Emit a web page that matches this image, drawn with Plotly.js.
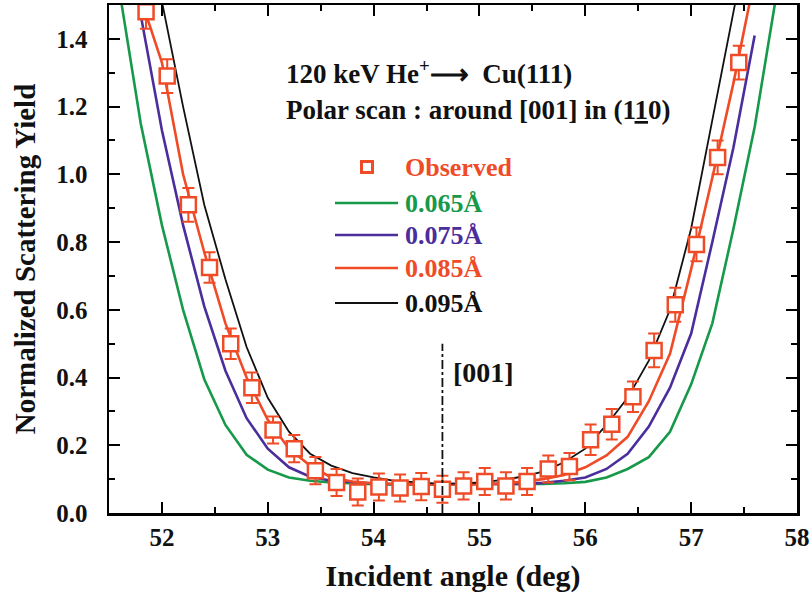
<!DOCTYPE html>
<html>
<head>
<meta charset="utf-8">
<script src="https://cdn.plot.ly/plotly-3.0.1.min.js"></script>
<style>html,body{margin:0;padding:0;background:#fff;}#chart{width:811px;height:597px;}</style>
</head>
<body>
<div id="chart"></div>
<script>
// Observed data
const obsAngle = [51.85, 52.05, 52.25, 52.45, 52.65, 52.85, 53.05, 53.25, 53.45, 53.65, 53.85, 54.05, 54.25, 54.45, 54.65, 54.85, 55.05, 55.25, 55.45, 55.65, 55.85, 56.05, 56.25, 56.45, 56.65, 56.85, 57.05, 57.25, 57.45];
const obsYield = [1.48, 1.29, 0.91, 0.725, 0.50, 0.37, 0.245, 0.19, 0.125, 0.09, 0.062, 0.077, 0.074, 0.078, 0.07, 0.08, 0.093, 0.08, 0.093, 0.13, 0.137, 0.216, 0.262, 0.343, 0.48, 0.615, 0.793, 1.05, 1.33];
const obsErr = [0.05, 0.05, 0.05, 0.045, 0.045, 0.045, 0.04, 0.04, 0.04, 0.04, 0.04, 0.04, 0.04, 0.04, 0.04, 0.04, 0.04, 0.04, 0.04, 0.04, 0.04, 0.045, 0.045, 0.045, 0.05, 0.05, 0.05, 0.05, 0.05];

// Calculated curves
const calcAngle = [51.6, 51.8, 52.0, 52.2, 52.4, 52.6, 52.8, 53.0, 53.2, 53.4, 53.6, 53.8, 54.0, 54.2, 54.4, 54.6, 54.8, 55.0, 55.2, 55.4, 55.6, 55.8, 56.0, 56.2, 56.4, 56.6, 56.8, 57.0, 57.2, 57.4, 57.6, 57.8];
const y065 = [1.54, 1.15, 0.85, 0.60, 0.395, 0.26, 0.172, 0.128, 0.105, 0.095, 0.09, 0.087, 0.085, 0.084, 0.084, 0.084, 0.084, 0.084, 0.084, 0.085, 0.086, 0.088, 0.092, 0.105, 0.13, 0.165, 0.24, 0.38, 0.56, 0.84, 1.14, 1.52];
const y075 = [1.85, 1.47, 1.13, 0.85, 0.61, 0.42, 0.28, 0.19, 0.135, 0.107, 0.095, 0.09, 0.087, 0.085, 0.085, 0.085, 0.085, 0.085, 0.085, 0.086, 0.089, 0.095, 0.105, 0.13, 0.175, 0.255, 0.37, 0.53, 0.80, 1.08, 1.41, null];
const y085 = [1.9, 1.52, 1.33, 1.0, 0.77, 0.56, 0.40, 0.275, 0.19, 0.14, 0.105, 0.093, 0.088, 0.085, 0.084, 0.084, 0.084, 0.085, 0.087, 0.092, 0.10, 0.112, 0.135, 0.17, 0.225, 0.33, 0.47, 0.72, 0.99, 1.27, 1.58, 1.9];
const y095 = [2.3, 1.9, 1.51, 1.20, 0.91, 0.69, 0.49, 0.34, 0.24, 0.175, 0.14, 0.118, 0.105, 0.095, 0.09, 0.087, 0.087, 0.09, 0.097, 0.107, 0.122, 0.15, 0.19, 0.26, 0.34, 0.45, 0.60, 0.84, 1.16, 1.47, 1.8, 2.2];

// [001] direction marker
const dirAngle = [54.65, 54.65];
const dirYield = [0, 0.5];

const seriesNames = ['Observed', '0.065Å', '0.075Å', '0.085Å', '0.095Å'];
const RED = '#ef4b27', GREEN = '#17994a', PURPLE = '#4a2e9c', BLACK = '#111111';
const FONT = 'Liberation Serif, Times New Roman, serif';

const traces = [
  {x: calcAngle, y: y065, mode: 'lines', line: {color: GREEN, width: 2.6}, name: seriesNames[1]},
  {x: calcAngle, y: y075, mode: 'lines', line: {color: PURPLE, width: 2.6}, name: seriesNames[2], connectgaps: false},
  {x: calcAngle, y: y085, mode: 'lines', line: {color: RED, width: 2.6}, name: seriesNames[3]},
  {x: calcAngle, y: y095, mode: 'lines', line: {color: BLACK, width: 1.8}, name: seriesNames[4]},
  {x: obsAngle, y: obsYield, mode: 'markers', name: seriesNames[0],
   marker: {symbol: 'square', size: 15, color: '#ffffff', line: {color: RED, width: 2.5}},
   error_y: {type: 'data', array: obsErr, visible: true, color: RED, thickness: 2, width: 6}},
  {x: dirAngle, y: dirYield, mode: 'lines', line: {color: BLACK, width: 1.8, dash: 'dashdot'}, name: '[001]'}
];

// paper helpers (plot area: left 109, right 797, top 5, bottom 513)
const px = v => (v - 109) / 688;
const py = v => (513 - v) / 508;

const legendY = [167, 203, 235, 268, 303];
const legendColors = [RED, GREEN, PURPLE, RED, BLACK];
const annotations = [
  {xref: 'paper', yref: 'paper', x: px(284), y: py(72), xanchor: 'left', yanchor: 'middle', showarrow: false,
   text: '<b>120 keV He<sup>+</sup>\u27F6  Cu(111)</b>', font: {family: FONT, size: 27, color: '#111'}},
  {xref: 'paper', yref: 'paper', x: px(284), y: py(110), xanchor: 'left', yanchor: 'middle', showarrow: false,
   text: '<b>Polar scan : around [001] in (1<u>1</u>0)</b>', font: {family: FONT, size: 27, color: '#111'}},
  {xref: 'paper', yref: 'paper', x: px(451), y: py(372), xanchor: 'left', yanchor: 'middle', showarrow: false,
   text: '<b>[001]</b>', font: {family: FONT, size: 28, color: '#111'}}
];
const shapes = [];
seriesNames.forEach((n, i) => {
  annotations.push({xref: 'paper', yref: 'paper', x: px(403), y: py(legendY[i]), xanchor: 'left', yanchor: 'middle',
    showarrow: false, text: '<b>' + n + '</b>', font: {family: FONT, size: 26, color: legendColors[i]}});
  if (i === 0) {
    shapes.push({type: 'rect', xref: 'paper', yref: 'paper', xsizemode: 'pixel', ysizemode: 'pixel',
      xanchor: px(367), yanchor: py(legendY[i]), x0: -5.5, x1: 5.5, y0: -5.5, y1: 5.5,
      line: {color: RED, width: 3}, fillcolor: '#ffffff'});
  } else {
    shapes.push({type: 'line', xref: 'paper', yref: 'paper', x0: px(335), x1: px(398),
      y0: py(legendY[i]), y1: py(legendY[i]),
      line: {color: [GREEN, PURPLE, RED, BLACK][i - 1], width: i === 4 ? 2 : 2.6}});
  }
});

const axisCommon = {
  showline: true, linecolor: '#000', linewidth: 2.5, mirror: 'ticks',
  ticks: 'inside', ticklen: 11, tickwidth: 2, tickcolor: '#000',
  showgrid: false, zeroline: false,
  tickfont: {family: FONT, size: 25, color: '#111', weight: 'bold'}
};

const layout = {
  width: 811, height: 597,
  margin: {l: 109, r: 14, t: 5, b: 84},
  paper_bgcolor: '#fff', plot_bgcolor: '#fff',
  showlegend: false,
  xaxis: Object.assign({}, axisCommon, {
    range: [51.5, 58], dtick: 1, tick0: 52,
    minor: {dtick: 0.5, ticks: 'inside', ticklen: 6, tickwidth: 2, tickcolor: '#000'},
    title: {text: '<b>Incident angle (deg)</b>', font: {family: FONT, size: 30, color: '#111'}, standoff: 16}
  }),
  yaxis: Object.assign({}, axisCommon, {
    range: [0, 1.5], dtick: 0.2, tick0: 0, tickformat: '.1f',
    minor: {dtick: 0.1, ticks: 'inside', ticklen: 6, tickwidth: 2, tickcolor: '#000'},
    ticklabelstandoff: 14,
    title: {text: '<b>Normalized Scattering Yield</b>', font: {family: FONT, size: 29, color: '#111'}, standoff: 12}
  }),
  annotations: annotations,
  shapes: shapes
};

Plotly.newPlot('chart', traces, layout, {staticPlot: true, displayModeBar: false});
</script>
</body>
</html>
